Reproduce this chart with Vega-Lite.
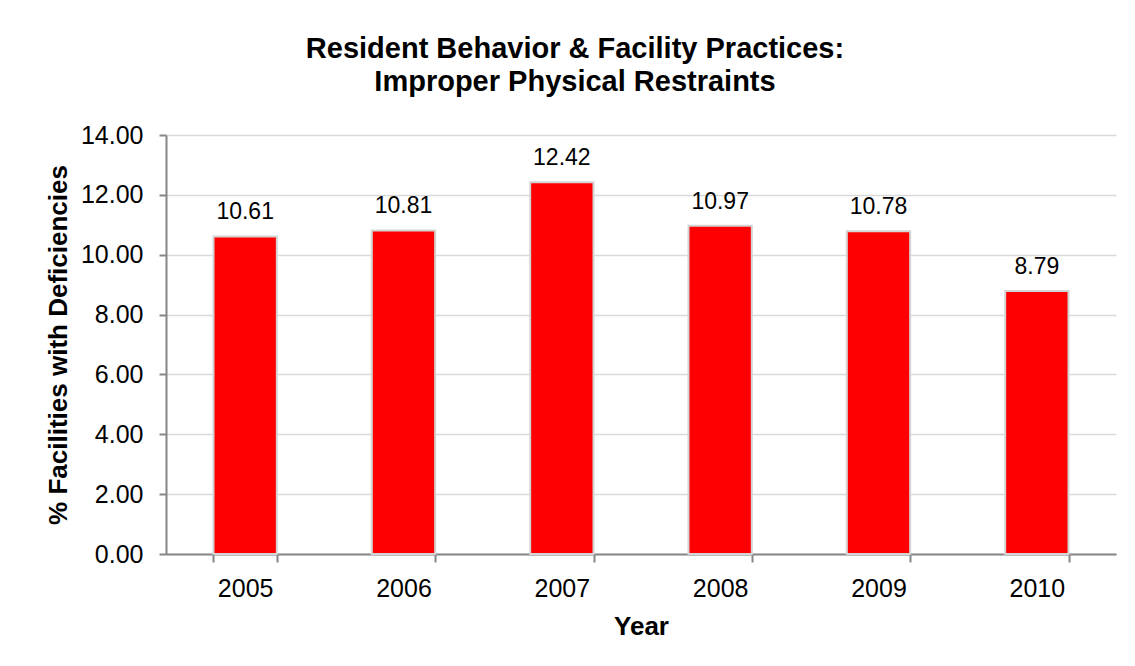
{
  "$schema": "https://vega.github.io/schema/vega-lite/v6.json",
  "width": 950,
  "height": 419,
  "autosize": {"type": "none"},
  "padding": {"left": 166, "top": 135, "right": 19, "bottom": 112},
  "background": "white",
  "title": {
    "text": ["Resident Behavior & Facility Practices:", "Improper Physical Restraints"],
    "font": "Liberation Sans",
    "fontSize": 29,
    "fontWeight": "bold",
    "color": "#000000",
    "anchor": "middle",
    "frame": "group",
    "dx": -66,
    "lineHeight": 33,
    "offset": 26
  },
  "data": {
    "values": [
      {"Year": "2005", "Pct": 10.61},
      {"Year": "2006", "Pct": 10.81},
      {"Year": "2007", "Pct": 12.42},
      {"Year": "2008", "Pct": 10.97},
      {"Year": "2009", "Pct": 10.78},
      {"Year": "2010", "Pct": 8.79}
    ]
  },
  "encoding": {
    "x": {
      "field": "Year",
      "type": "nominal",
      "scale": {"paddingInner": 0.6, "paddingOuter": 0.3},
      "axis": {
        "title": "Year",
        "labelAngle": 0,
        "tickBand": "extent",
        "grid": false,
        "labelPadding": 14,
        "titlePadding": 12,
        "tickSize": 8
      }
    },
    "y": {
      "field": "Pct",
      "type": "quantitative",
      "scale": {"domain": [0, 14], "nice": false},
      "axis": {
        "title": "% Facilities with Deficiencies",
        "values": [0, 2, 4, 6, 8, 10, 12, 14],
        "format": ".2f",
        "tickSize": 7,
        "labelPadding": 16,
        "titlePadding": 9
      }
    }
  },
  "layer": [
    {
      "mark": {"type": "bar", "color": "#ff0000", "stroke": "#d4d4d4", "strokeWidth": 2}
    },
    {
      "mark": {"type": "text", "dy": -17, "baseline": "alphabetic", "font": "Liberation Sans", "fontSize": 23, "color": "#000000"},
      "encoding": {"text": {"field": "Pct", "type": "quantitative", "format": ".2f"}}
    }
  ],
  "config": {
    "view": {"stroke": null},
    "axis": {
      "labelFont": "Liberation Sans",
      "labelFontSize": 25,
      "labelColor": "#000000",
      "titleFont": "Liberation Sans",
      "titleFontSize": 26,
      "titleFontWeight": "bold",
      "titleColor": "#000000",
      "domainColor": "#868686",
      "domainWidth": 2,
      "tickColor": "#868686",
      "tickWidth": 2,
      "gridColor": "#d9d9d9",
      "gridWidth": 1.5
    }
  }
}
